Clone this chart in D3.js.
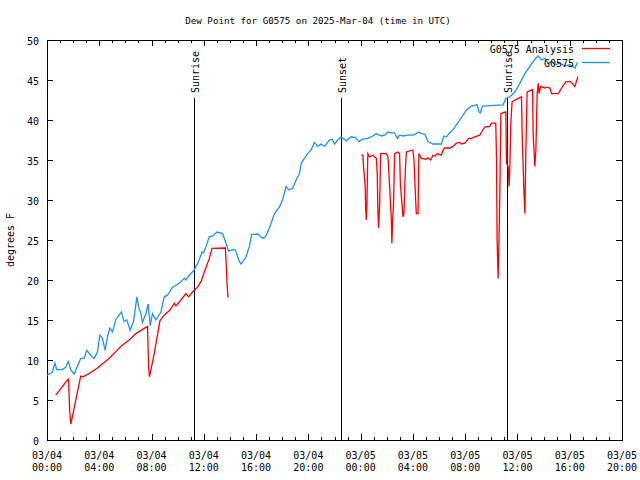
<!DOCTYPE html>
<html><head><meta charset="utf-8">
<script src="https://cdn.jsdelivr.net/npm/d3@7"></script>
<style>body{margin:0;background:#fff}text{font-family:"DejaVu Sans Mono",monospace;fill:#000}</style>
</head><body><svg id="c" width="640" height="480"></svg>
<script>
const title = "Dew Point for G0575 on 2025-Mar-04 (time in UTC)";
const yLabel = "degrees F";
const seriesNames = ["G0575 Analysis", "G0575"];
const yTicks = [0,5,10,15,20,25,30,35,40,45,50];
const xTickHours = [0,4,8,12,16,20,24,28,32,36,40,44];
const xTickLabels = ["03/04|00:00","03/04|04:00","03/04|08:00","03/04|12:00","03/04|16:00","03/04|20:00","03/05|00:00","03/05|04:00","03/05|08:00","03/05|12:00","03/05|16:00","03/05|20:00"];
const sunEvents = [{h:11.25,label:"Sunrise"},{h:22.52,label:"Sunset"},{h:35.23,label:"Sunrise"}];
// hours since 03/04 00:00 UTC, dew point (F)
const obsHours = [0.0,0.41,0.61,0.74,1.17,1.43,1.63,1.82,2.07,2.32,2.58,2.84,3.04,3.35,3.60,3.86,4.04,4.24,4.45,4.62,4.81,5.01,5.27,5.70,5.90,6.11,6.36,6.62,6.88,7.00,7.18,7.31,7.57,7.74,7.90,8.07,8.33,8.72,8.97,9.22,9.61,10.12,10.50,10.63,10.89,11.27,11.40,11.60,11.86,11.98,12.17,12.42,12.67,13.01,13.44,13.70,13.90,14.21,14.41,14.67,14.85,15.23,15.49,15.66,16.12,16.51,16.71,16.89,17.15,17.40,17.78,18.04,18.30,18.50,18.80,19.07,19.32,19.45,19.70,19.95,20.22,20.47,20.72,20.98,21.23,21.62,21.83,22.00,22.25,22.51,22.90,23.28,23.61,23.86,24.17,24.55,24.94,25.20,25.58,25.83,26.09,26.35,26.60,26.81,26.98,27.24,27.62,28.00,28.26,28.44,28.65,28.90,29.15,29.54,30.18,30.38,30.56,30.82,31.07,31.33,31.58,31.84,32.10,32.48,32.91,33.06,33.17,33.32,34.90,35.11,35.42,35.80,36.05,36.31,36.57,36.95,37.33,37.59,37.85,38.10,38.35,38.61,38.87,39.25,39.63,40.02,40.40,40.58];
const obsValues = [8.1,8.5,9.6,8.8,8.8,9.1,9.8,8.75,8.25,9.2,10.2,10.2,11.2,10.6,10.2,11.0,13.1,12.7,11.2,12.9,14.0,13.5,15.1,16.0,14.8,15.0,13.75,14.8,17.9,16.7,15.8,14.7,15.8,17.0,14.3,15.8,15.0,16.0,17.9,18.1,19.1,19.6,20.2,20.0,20.6,21.25,21.7,22.3,23.5,23.4,24.2,25.4,25.5,26.0,25.8,24.6,23.6,23.8,23.75,22.5,22.0,22.9,24.2,25.7,25.75,25.2,25.4,26.0,27.1,28.3,29.1,30.1,31.7,31.25,31.5,32.5,33.3,34.6,35.2,35.8,36.3,37.2,36.7,37.0,36.7,37.5,37.6,37.0,37.5,37.9,37.4,37.9,37.8,37.3,37.6,37.7,38.0,38.3,38.0,38.1,38.5,38.4,38.4,37.7,38.1,38.0,38.1,38.1,38.3,38.5,38.3,38.25,37.3,37.0,37.0,38.0,37.9,38.4,38.8,39.4,40.0,40.6,41.25,41.75,41.9,41.0,40.9,41.75,41.9,42.7,42.9,43.5,44.2,45.0,45.8,46.7,47.6,48.0,47.5,47.7,47.1,47.3,46.9,47.1,46.75,46.9,46.5,47.2];
// analysis: null marks a gap
const anaHours = [0.67,1.56,1.65,1.74,1.82,1.94,2.58,2.76,3.22,3.86,4.75,5.65,6.42,6.80,7.69,7.77,7.84,7.95,8.20,8.64,8.97,9.41,9.74,9.87,10.25,10.63,10.83,11.14,11.52,11.78,12.04,12.42,12.63,13.65,13.70,13.78,13.85,18.0,
 24.05,24.17,24.22,24.35,24.38,24.43,24.48,24.55,24.68,24.94,25.20,25.27,25.32,25.37,25.45,25.53,25.96,26.09,26.16,26.27,26.35,26.39,26.45,26.52,26.60,26.85,26.98,27.04,27.24,27.31,27.42,27.50,28.00,28.08,28.21,28.26,28.39,28.46,28.65,29.03,29.15,29.36,29.54,29.72,29.87,30.18,30.30,30.43,30.82,31.07,31.33,31.58,31.71,31.97,32.27,32.48,32.73,33.12,33.25,33.50,33.88,34.01,34.34,34.40,34.44,34.52,34.57,34.65,34.73,35.11,35.16,35.29,35.36,35.42,35.49,35.59,36.31,36.36,36.49,36.57,36.64,36.74,37.16,37.20,37.33,37.41,37.51,37.59,37.66,37.77,38.10,38.23,38.48,38.61,39.12,39.38,39.71,40.07,40.40,40.58,40.61];
const anaValues = [5.6,7.5,7.6,3.5,2.0,2.9,8.0,7.9,8.3,9.0,10.2,11.7,12.7,13.3,14.2,9.4,7.9,8.75,10.75,14.9,15.6,16.25,17.1,16.75,17.5,18.3,17.9,18.5,19.1,19.8,21.0,22.7,23.95,24.0,22.5,19.4,17.8,null,
 35.6,35.6,34.2,31.7,29.2,27.5,29.4,35.8,35.4,35.6,35.2,33.3,28.75,26.5,29.2,35.8,35.8,35.4,33.5,30.0,27.5,24.6,27.5,29.6,35.8,36.0,35.8,32.1,27.9,28.3,33.75,36.0,36.25,35.0,30.0,28.3,28.3,35.8,35.2,35.1,35.3,35.0,35.6,35.5,35.8,35.6,36.25,36.5,36.5,36.7,37.1,37.2,37.0,37.1,37.7,37.7,37.9,38.1,38.5,39.1,39.2,39.6,39.6,35.0,25.2,20.2,23.75,30.6,40.8,41.0,34.6,34.2,31.7,34.2,39.6,42.3,42.9,38.3,31.25,28.3,35.8,43.5,43.8,38.3,34.2,36.25,43.3,44.6,43.3,44.2,44.0,44.1,44.0,43.3,43.3,44.0,44.8,44.8,44.2,45.2,45.4];

const svg = d3.select("#c");
const L=47, R=622, T=40, B=440;
const x = d3.scaleLinear().domain([0,44]).range([L,R]);
const y = d3.scaleLinear().domain([0,50]).range([B,T]);
const red="#ff0000", blue="#1e90ff";

// axes frame
const g = svg.append("g").attr("shape-rendering","crispEdges");
g.append("rect").attr("x",L+0.5).attr("y",T+0.5).attr("width",R-L).attr("height",B-T).attr("fill","none").attr("stroke","#000");

// y ticks (inside, mirrored)
yTicks.forEach(v=>{
  const yy=Math.round(y(v))+0.5;
  g.append("line").attr("x1",L).attr("x2",L+6).attr("y1",yy).attr("y2",yy).attr("stroke","#000");
  g.append("line").attr("x1",R-6).attr("x2",R).attr("y1",yy).attr("y2",yy).attr("stroke","#000");
  svg.append("text").attr("x",L-8).attr("y",yy+4).attr("text-anchor","end").attr("font-size",10).text(v);
});
// x ticks: major every 4h, minor every hour
d3.range(0,45).forEach(h=>{
  const xx=Math.round(x(h))+0.5, len = (h%4===0)?6:3;
  g.append("line").attr("x1",xx).attr("x2",xx).attr("y1",B).attr("y2",B-len).attr("stroke","#000");
  g.append("line").attr("x1",xx).attr("x2",xx).attr("y1",T).attr("y2",T+len).attr("stroke","#000");
});
xTickHours.forEach((h,i)=>{
  const parts=xTickLabels[i].split("|");
  const t=svg.append("text").attr("x",x(h)).attr("y",459).attr("text-anchor","middle").attr("font-size",10);
  t.append("tspan").attr("x",x(h)).attr("dy",0).text(parts[0]);
  t.append("tspan").attr("x",x(h)).attr("dy",12).text(parts[1]);
});

// title and y label
svg.append("text").attr("x",318).attr("y",24).attr("text-anchor","middle").attr("font-size",9.2).text(title);
svg.append("text").attr("transform","translate(14,240) rotate(-90)").attr("text-anchor","middle").attr("font-size",10).text(yLabel);

// sun lines
sunEvents.forEach(s=>{
  const xx=Math.round(x(s.h))+0.5;
  g.append("line").attr("x1",xx).attr("x2",xx).attr("y1",y(42.75)).attr("y2",B).attr("stroke","#000");
  svg.append("text").attr("transform",`translate(${xx+4},${T+53}) rotate(-90)`).attr("text-anchor","start").attr("font-size",10).text(s.label);
});

// data lines
const obs = obsHours.map((h,i)=>({h,v:obsValues[i]}));
const ana = anaHours.map((h,i)=>({h,v:anaValues[i]}));
const line = d3.line().defined(d=>d.v!==null).x(d=>x(d.h)).y(d=>y(d.v));
svg.append("path").datum(ana).attr("d",line).attr("fill","none").attr("stroke",red).attr("stroke-width",1.3);
svg.append("path").datum(obs).attr("d",line).attr("fill","none").attr("stroke",blue).attr("stroke-width",1.3);

// legend
[[seriesNames[0],red,49],[seriesNames[1],blue,63]].forEach(([n,c,yy])=>{
  svg.append("text").attr("x",574).attr("y",yy+4).attr("text-anchor","end").attr("font-size",10).text(n);
  svg.append("line").attr("x1",582).attr("x2",610).attr("y1",yy-0.5).attr("y2",yy-0.5).attr("stroke",c).attr("stroke-width",1.3);
});
</script></body></html>
